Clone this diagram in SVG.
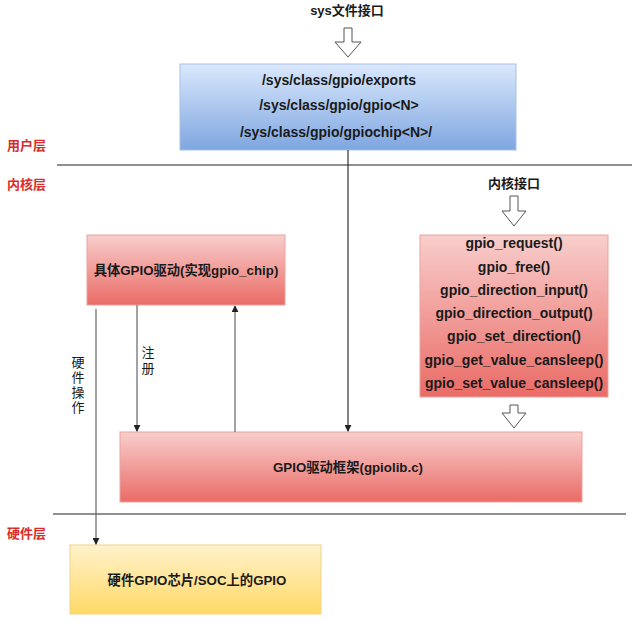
<svg xmlns="http://www.w3.org/2000/svg" width="637" height="622" viewBox="0 0 637 622">
<style>
text{font-family:"Liberation Sans","Noto Sans CJK SC",Arial,sans-serif;fill:#1a1a1a}
.b{font-weight:bold;font-size:14px;text-anchor:middle}
.c{font-weight:bold;font-size:13.3px;text-anchor:middle}
.t{font-weight:bold;font-size:13px;text-anchor:middle}
.layer{font-weight:bold;font-size:13px;fill:#d92b2b}
.v{font-size:13px;text-anchor:middle}
.sep{stroke:#222;stroke-width:1.2}
.conn{fill:none;stroke:#666;stroke-width:1.2}
.connd{fill:none;stroke:#333;stroke-width:1.2}
.hollow{fill:#fff;stroke:#555;stroke-width:1}
</style>
<defs>
<linearGradient id="gb" x1="0" y1="0" x2="0" y2="1"><stop offset="0" stop-color="#dae8fc"/><stop offset="1" stop-color="#7ea6e0"/></linearGradient>
<linearGradient id="gr" x1="0" y1="0" x2="0" y2="1"><stop offset="0" stop-color="#f8cecc"/><stop offset="1" stop-color="#ea6b66"/></linearGradient>
<linearGradient id="gy" x1="0" y1="0" x2="0" y2="1"><stop offset="0" stop-color="#fff2cc"/><stop offset="1" stop-color="#ffd966"/></linearGradient>
<marker id="ah" viewBox="0 0 8 8" refX="7" refY="4" markerWidth="7" markerHeight="7" markerUnits="userSpaceOnUse" orient="auto"><path d="M0,0 L8,4 L0,8 Z" fill="#222"/></marker>
</defs>

<g id="layers">
<line class="sep" x1="57" y1="165" x2="632" y2="165"/>
<line class="sep" x1="53" y1="514" x2="626" y2="514"/>
<text class="layer" x="7" y="150">用户层</text>
<text class="layer" x="7" y="189">内核层</text>
<text class="layer" x="7" y="538">硬件层</text>
</g>

<g id="sys-label">
<text class="t" x="347" y="15">sys文件接口</text>
<path class="hollow" d="M344,28 H352 V42 H361 L348,57 L335,42 H344 Z"/>
</g>

<g id="sysfs">
<rect x="180" y="64" width="336" height="86" fill="url(#gb)" stroke="#a9c0e2" stroke-width="1"/>
<text class="b" x="339" y="85">/sys/class/gpio/exports</text>
<text class="b" x="339" y="110">/sys/class/gpio/gpio&lt;N&gt;</text>
<text class="b" x="336" y="137">/sys/class/gpio/gpiochip&lt;N&gt;/</text>
</g>

<g id="kernel-api-label">
<text class="t" x="514" y="188">内核接口</text>
<path class="hollow" d="M510,196 H518 V211 H526 L514,226 L502,211 H510 Z"/>
</g>

<g id="kernel-api">
<rect x="420" y="235" width="188" height="162" fill="url(#gr)" stroke="#e8a3a0" stroke-width="1"/>
<text class="b" x="514" y="248">gpio_request()</text>
<text class="b" x="514" y="272">gpio_free()</text>
<text class="b" x="514" y="295">gpio_direction_input()</text>
<text class="b" x="514" y="318">gpio_direction_output()</text>
<text class="b" x="514" y="341">gpio_set_direction()</text>
<text class="b" x="514" y="365">gpio_get_value_cansleep()</text>
<text class="b" x="514" y="388">gpio_set_value_cansleep()</text>
<path class="hollow" d="M510,405 H518 V413 H526 L514,428 L502,413 H510 Z"/>
</g>

<g id="chip-driver">
<rect x="87" y="235" width="198" height="70" fill="url(#gr)" stroke="#e8a3a0" stroke-width="1"/>
<text class="c" x="186" y="275">具体GPIO驱动(实现gpio_chip)</text>
</g>

<g id="gpiolib">
<rect x="120" y="432" width="462" height="70" fill="url(#gr)" stroke="#e8a3a0" stroke-width="1"/>
<text class="c" x="348" y="472">GPIO驱动框架(gpiolib.c)</text>
</g>

<g id="hardware">
<rect x="70" y="545" width="251" height="69" fill="url(#gy)" stroke="#ecd48a" stroke-width="1"/>
<text class="c" x="197" y="585">硬件GPIO芯片/SOC上的GPIO</text>
</g>

<g id="connectors">
<line class="connd" x1="348" y1="150" x2="348" y2="431" marker-end="url(#ah)"/>
<line class="conn" x1="96" y1="309" x2="96" y2="544" marker-end="url(#ah)"/>
<line class="conn" x1="137" y1="305" x2="137" y2="431" marker-end="url(#ah)"/>
<line class="conn" x1="235" y1="432" x2="235" y2="306" marker-end="url(#ah)"/>
<text class="v" x="148" y="357">注</text>
<text class="v" x="148" y="373">册</text>
<text class="v" x="78" y="367">硬</text>
<text class="v" x="78" y="382">件</text>
<text class="v" x="78" y="397">操</text>
<text class="v" x="78" y="412">作</text>
</g>
</svg>
